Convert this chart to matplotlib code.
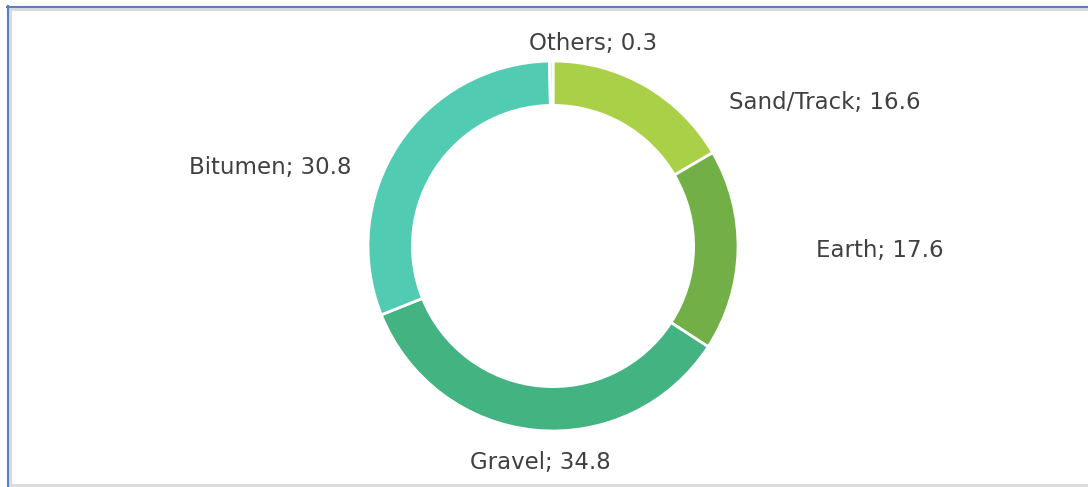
import matplotlib.pyplot as plt
from matplotlib.lines import Line2D

categories = ["Sand/Track", "Earth", "Gravel", "Bitumen", "Others"]
values = [16.6, 17.6, 34.8, 30.8, 0.3]
colors = ["#A9D046", "#72AF47", "#43B382", "#52CBB3", "#BFDCEB"]

# label centres in data units (donut radius = 1)
label_pos = [(1.470, 0.778), (1.768, -0.022), (-0.070, -1.168),
             (-1.530, 0.422), (0.216, 1.097)]

W, H = 1088, 487
cx, cy, r = 553, 246, 185

fig = plt.figure(figsize=(W / 100, H / 100), dpi=100)
ax = fig.add_axes([0, 0, 1, 1])

wedges, texts = ax.pie(values, colors=colors, startangle=90, counterclock=False,
                       radius=1, labels=[f"{c}; {v}" for c, v in zip(categories, values)],
                       wedgeprops=dict(width=0.24, edgecolor="white", linewidth=2),
                       textprops=dict(fontsize=16.5, color="#404040"))
ax.set_xlim(-cx / r, (W - cx) / r)
ax.set_ylim(-(H - cy) / r, cy / r)
ax.set_aspect("equal")
ax.axis("off")
for t, (x, y) in zip(texts, label_pos):
    t.set_position((x, y))
    t.set_ha("center")
    t.set_va("center")

# frame
def px(x, y):
    return x / W, 1 - y / H

for (x0, y0), (x1, y1), c, lw in [((10, 9), (1088, 9), "#D9D9D9", 2),
                                   ((10, 9), (10, 487), "#D9D9D9", 2),
                                   ((10, 485), (1088, 485), "#D9D9D9", 2),
                                   ((7, 6.5), (1088, 6.5), "#5B7DC2", 1.5),
                                   ((7.5, 6), (7.5, 487), "#5B7DC2", 1.5)]:
    a, b = px(x0, y0), px(x1, y1)
    fig.add_artist(Line2D([a[0], b[0]], [a[1], b[1]], color=c, lw=lw))

fig.savefig("out.png", dpi=100)
